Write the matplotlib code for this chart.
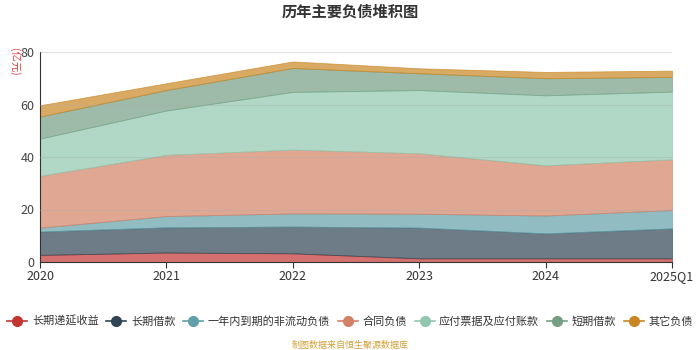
import numpy as np
import matplotlib.pyplot as plt
from matplotlib.lines import Line2D

plt.rcParams['font.family'] = ['Noto Sans CJK SC', 'DejaVu Sans']

periods = ['2020', '2021', '2022', '2023', '2024', '2025Q1']
names = ['长期递延收益', '长期借款', '一年内到期的非流动负债', '合同负债',
         '应付票据及应付账款', '短期借款', '其它负债']
colors = ['#c23531', '#2f4554', '#61a0a8', '#d48265', '#91c7ae', '#749f83', '#ca8622']

deferred_income = [2.7, 3.6, 3.3, 1.4, 1.4, 1.4]
long_loans = [8.9, 9.6, 10.2, 11.7, 9.5, 11.4]
current_noncurrent = [1.5, 4.3, 5.0, 5.3, 6.8, 7.0]
contract_liab = [19.7, 23.3, 24.3, 23.0, 19.1, 19.3]
payables = [14.2, 16.9, 22.0, 24.1, 26.7, 25.8]
short_loans = [8.4, 7.8, 9.1, 6.4, 6.5, 5.6]
other_liab = [4.3, 2.6, 2.5, 1.9, 2.4, 2.4]

series = [deferred_income, long_loans, current_noncurrent, contract_liab,
          payables, short_loans, other_liab]

fig = plt.figure(figsize=(7, 3.5), dpi=100)
ax = fig.add_axes([40 / 700, 1 - 262 / 350, 632 / 700, 210 / 350])

x = np.arange(len(periods))
base = np.zeros(len(periods))
for vals, c in zip(series, colors):
    top = base + np.array(vals)
    ax.fill_between(x, base, top, color=c, alpha=0.7, linewidth=0.6, edgecolor=c)
    base = top

ax.set_xlim(0, len(periods) - 1)
ax.set_ylim(0, 80)
ax.set_yticks([0, 20, 40, 60, 80])
ax.set_xticks(x)
ax.set_xticklabels(periods)
ax.tick_params(axis='both', labelsize=9, colors='#333333', length=4, pad=2)
ax.tick_params(axis='y', length=0, pad=4)
for lab in ax.get_yticklabels():
    lab.set_color('#444444')
ax.grid(axis='y', color='#aaaaaa', alpha=0.35, linewidth=0.8, zorder=5)
ax.set_axisbelow(False)
for s in ['top', 'right']:
    ax.spines[s].set_visible(False)
ax.spines['left'].set_color('#333333')
ax.spines['bottom'].set_color('#333333')

fig.text(0.5, 1 - 12 / 350, '历年主要负债堆积图', ha='center', va='center',
         fontsize=11, fontweight='bold', color='#333333')
fig.text(14 / 700, 1 - 62 / 350, '(亿元)', ha='center', va='center',
         rotation=270, fontsize=7.5, color='#e83a3a')

handles = [Line2D([0], [0], color=c, marker='o', markersize=7, linewidth=1.2)
           for c in colors]
fig.legend(handles, names, loc='center', bbox_to_anchor=(0.5, 1 - 321 / 350),
           ncol=7, frameon=False, fontsize=8, handlelength=1.8,
           handletextpad=0.4, columnspacing=0.7, labelcolor='#333333')

fig.text(0.5, 1 - 345 / 350, '制图数据来自恒生聚源数据库', ha='center', va='center',
         fontsize=6.5, color='#d4a03a')

fig.savefig('out.png', dpi=100)
